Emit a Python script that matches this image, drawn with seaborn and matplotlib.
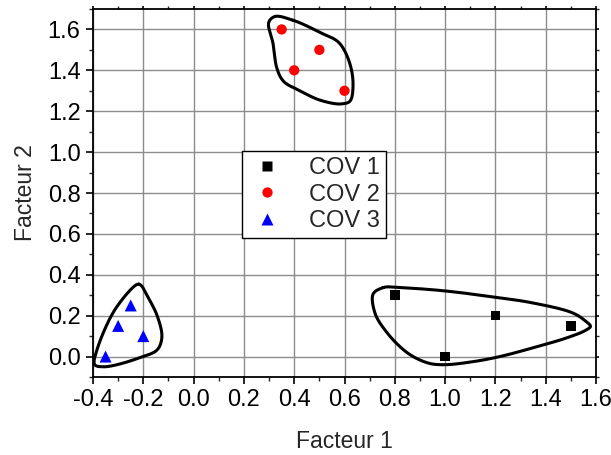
import numpy as np
import pandas as pd
import seaborn as sns
import matplotlib
matplotlib.use("Agg")
import matplotlib.pyplot as plt
from matplotlib.ticker import MultipleLocator, FormatStrFormatter

# ---- data ----
cov1_x = [0.8, 1.0, 1.2, 1.5]
cov1_y = [0.3, 0.0, 0.2, 0.15]
cov2_x = [0.35, 0.4, 0.5, 0.6]
cov2_y = [1.6, 1.4, 1.5, 1.3]
cov3_x = [-0.35, -0.3, -0.25, -0.2]
cov3_y = [0.0, 0.15, 0.25, 0.1]
groups = ["COV 1", "COV 2", "COV 3"]

# enclosing hull control points (closed curves)
hull1_x = [0.753, 0.712, 0.721, 0.769, 0.848, 0.928, 0.992, 1.111, 1.218,
           1.35, 1.485, 1.558, 1.578, 1.558, 1.508, 1.35, 1.218, 0.992, 0.82]
hull1_y = [0.337, 0.300, 0.213, 0.117, 0.02, -0.03, -0.04, -0.025, 0.0,
           0.043, 0.092, 0.128, 0.148, 0.174, 0.213, 0.262, 0.287, 0.322, 0.337]
hull2_x = [0.395, 0.503, 0.582, 0.622, 0.634, 0.625, 0.59, 0.503, 0.423,
           0.355, 0.33, 0.316, 0.298, 0.32]
hull2_y = [1.645, 1.585, 1.53, 1.43, 1.335, 1.255, 1.236, 1.254, 1.30,
           1.35, 1.415, 1.53, 1.63, 1.662]
hull3_x = [-0.218, -0.236, -0.32, -0.384, -0.395, -0.36, -0.213, -0.14, -0.126,
           -0.145, -0.19, -0.205]
hull3_y = [0.354, 0.344, 0.215, 0.034, -0.035, -0.05, -0.005, 0.04, 0.10,
           0.20, 0.31, 0.343]

df = pd.DataFrame({
    "x": cov1_x + cov2_x + cov3_x,
    "y": cov1_y + cov2_y + cov3_y,
    "g": [groups[0]] * len(cov1_x) + [groups[1]] * len(cov2_x) + [groups[2]] * len(cov3_x),
})


def closed_spline(xs, ys, n=40, alpha=0.5):
    # centripetal Catmull-Rom through the control points, closed
    p = np.column_stack([xs, ys]).astype(float)
    p = p * np.array([1.0, 0.45])  # roughly isotropic in display space
    m = len(p)
    out = []
    for i in range(m):
        P0, P1, P2, P3 = p[(i - 1) % m], p[i], p[(i + 1) % m], p[(i + 2) % m]
        t0 = 0.0
        t1 = t0 + np.linalg.norm(P1 - P0) ** alpha
        t2 = t1 + np.linalg.norm(P2 - P1) ** alpha
        t3 = t2 + np.linalg.norm(P3 - P2) ** alpha
        t = np.linspace(t1, t2, n, endpoint=False)[:, None]
        A1 = (t1 - t) / (t1 - t0) * P0 + (t - t0) / (t1 - t0) * P1
        A2 = (t2 - t) / (t2 - t1) * P1 + (t - t1) / (t2 - t1) * P2
        A3 = (t3 - t) / (t3 - t2) * P2 + (t - t2) / (t3 - t2) * P3
        B1 = (t2 - t) / (t2 - t0) * A1 + (t - t0) / (t2 - t0) * A2
        B2 = (t3 - t) / (t3 - t1) * A2 + (t - t1) / (t3 - t1) * A3
        C = (t2 - t) / (t2 - t1) * B1 + (t - t1) / (t2 - t1) * B2
        out.append(C)
    out = np.vstack(out)
    out = np.vstack([out, out[:1]])
    out = out / np.array([1.0, 0.45])
    return out[:, 0], out[:, 1]


sns.set_theme(style="ticks")
plt.rcParams["font.family"] = ["Liberation Sans", "DejaVu Sans"]

fig = plt.figure(figsize=(6.11, 4.55), dpi=100)
ax = fig.add_axes([93 / 611, 1 - 377 / 455, 503 / 611, 368 / 455])

for hx, hy in [(hull1_x, hull1_y), (hull2_x, hull2_y), (hull3_x, hull3_y)]:
    sx, sy = closed_spline(hx, hy)
    ax.plot(sx, sy, color="black", lw=2.2, zorder=3, solid_joinstyle="round")

sns.scatterplot(data=df, x="x", y="y", hue="g", style="g", size="g",
                palette={"COV 1": "black", "COV 2": "red", "COV 3": "blue"},
                markers={"COV 1": "s", "COV 2": "o", "COV 3": "^"},
                sizes={"COV 1": 48, "COV 2": 55, "COV 3": 75},
                edgecolor="none", ax=ax, zorder=4)

ax.set_xlim(-0.4, 1.6)
ax.set_ylim(-0.1, 1.7)
ax.xaxis.set_major_locator(MultipleLocator(0.2))
ax.xaxis.set_minor_locator(MultipleLocator(0.1))
ax.set_yticks(np.arange(0.0, 1.61, 0.2))
ax.yaxis.set_minor_locator(MultipleLocator(0.1))
ax.xaxis.set_major_formatter(FormatStrFormatter("%.1f"))
ax.yaxis.set_major_formatter(FormatStrFormatter("%.1f"))

ax.grid(True, which="major", color="#8c8c8c", lw=1.0)
ax.set_axisbelow(True)
for sp in ax.spines.values():
    sp.set_visible(True)
    sp.set_color("black")
    sp.set_linewidth(1.3)

ax.tick_params(which="major", direction="out", length=5, width=1.2, labelsize=17,
               colors="black", top=True, right=True, pad=4)
ax.tick_params(which="minor", direction="out", length=3, width=1.0,
               top=True, right=True)
ax.xaxis.set_tick_params(which="both", labeltop=False)
ax.yaxis.set_tick_params(which="both", labelright=False)
for t in ax.xaxis.get_ticklines(minor=False)[1::2] + ax.xaxis.get_ticklines(minor=True)[1::2]:
    t.set_markersize(2)
for t in ax.yaxis.get_ticklines(minor=False)[1::2] + ax.yaxis.get_ticklines(minor=True)[1::2]:
    t.set_markersize(2)

ax.set_xlabel("Facteur 1", fontsize=16.5, labelpad=13)
ax.set_ylabel("Facteur 2", fontsize=16.5, labelpad=8)

handles, labels = ax.get_legend_handles_labels()
leg = ax.legend(handles, labels, loc="upper left", bbox_to_anchor=(0.296, 0.614),
                borderaxespad=0, frameon=True, fancybox=False, framealpha=1,
                edgecolor="black", fontsize=17, handletextpad=1.0,
                borderpad=0.25, labelspacing=0.2, handlelength=1.6, markerscale=1.0)
leg.get_frame().set_linewidth(1.0)

fig.savefig("out.png", dpi=100)
